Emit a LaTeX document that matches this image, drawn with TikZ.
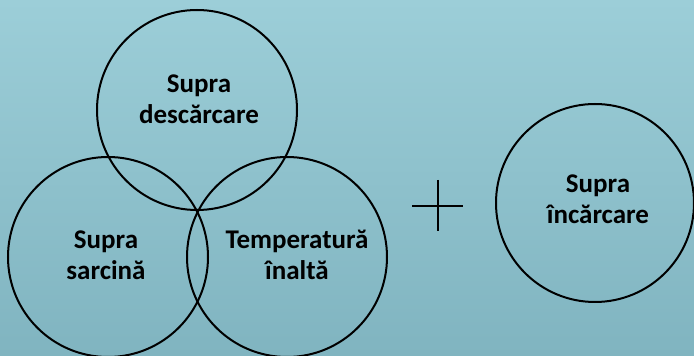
\documentclass[tikz,border=0pt]{standalone}
\usepackage{fontspec}
\setmainfont{Carlito}
\usetikzlibrary{positioning}
\definecolor{bgtop}{RGB}{156,206,216}
\definecolor{bgbot}{RGB}{128,180,192}

\begin{document}
\begin{tikzpicture}[x=1pt, y=1pt,
    ring/.style={circle, draw=black, line width=2pt, minimum size=200pt, inner sep=0pt},
    lbl/.style={font=\fontsize{27}{31}\selectfont\bfseries, align=center, inner sep=0pt},
    cross/.style={line width=2pt, black}
  ]
  % background
  \shade[top color=bgtop, bottom color=bgbot] (0,0) rectangle (694,356);
  \useasboundingbox (0,0) rectangle (694,356);

  % three overlapping circles
  \node[ring] (discharge) at (197,246) {};
  \node[ring] (load) at (108,99) {};
  \node[ring] (temp) at (287,99) {};
  \node[ring, minimum size=198pt] (charge) at (595,153) {};

  % labels
  \node[lbl] (discharge-t) at (199,257) {Supra\\descărcare};
  \node[lbl] (load-t) at (106,101) {Supra\\sarcină};
  \node[lbl] (temp-t) at (297,101) {Temperatură\\înaltă};
  \node[lbl] (charge-t) at (598,157) {Supra\\încărcare};

  % plus sign
  \coordinate (plus) at (438,150);
  \draw[cross] (plus) ++(0,26) -- ++(0,-51);
  \draw[cross] (plus) ++(-26,0) -- ++(51,0);
\end{tikzpicture}
\end{document}
